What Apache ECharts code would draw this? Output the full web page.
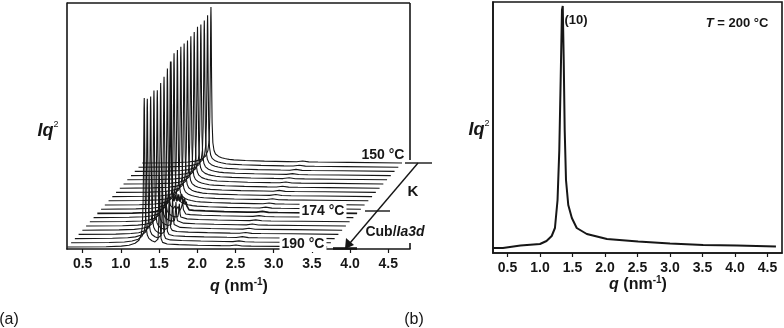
<!DOCTYPE html>
<html>
<head>
<meta charset="utf-8">
<script src="https://cdn.jsdelivr.net/npm/echarts@6/dist/echarts.min.js"></script>
<style>
  html, body { margin: 0; padding: 0; background: #fff; }
  #chart { width: 784px; height: 328px; }
</style>
</head>
<body>
<div id="chart"></div>
<script>
// ---- (a) waterfall of SAXS traces, back (150 °C) to front (190 °C)
const temps = [150, 152, 154, 156, 158, 160, 162, 164, 166, 168, 170,
               172, 174, 176, 178, 180, 182, 184, 186, 188, 190];
// main reflection position (own q, nm^-1) and height (px units) per trace
const peakQ = [1.199, 1.204, 1.210, 1.214, 1.219, 1.225, 1.230, 1.235, 1.240, 1.246, 1.250,
               1.255, 1.261, 1.266, 1.271, 1.276, 1.281, 1.286, 1.292, 1.297, 1.306];
const peakH = [156, 152, 151, 151, 153, 152, 152, 152, 153, 154, 155,
               156, 152, 149, 145, 143, 140, 144, 142, 144, 149];
// Ia3d (220) reflection height, and the jagged multi-peak of the transition
const cubH = [0, 0, 0, 0, 0, 0, 0, 0, 0, 0, 0, 0, 0, 8, 14, 20, 28, 36, 44, 52, 60];
const mixH = [0, 0, 0, 0, 0, 0, 0, 0, 0, 0, 0, 0, 14, 6, 0, 0, 0, 0, 0, 0, 0];
const harmH = 0.8;

// normalized line shape around the main peak (dq from peak)
const shapeDq   = [-1.0, -0.5, -0.3, -0.2, -0.12, -0.07, -0.04, -0.025, -0.015, -0.008, -0.003, 0,
                   0.003, 0.008, 0.015, 0.025, 0.04, 0.06, 0.08, 0.1, 0.12, 0.14, 0.16, 0.18, 0.19,
                   0.2, 0.21, 0.22, 0.24, 0.3, 0.45, 0.7, 1.0, 1.12, 1.2, 1.28, 1.4, 1.8, 2.6];
const shapeMain = [0, 0.002, 0.006, 0.012, 0.025, 0.045, 0.08, 0.14, 0.3, 0.6, 0.93, 1,
                   0.9, 0.55, 0.26, 0.13, 0.08, 0.058, 0.048, 0.042, 0.038, 0.034, 0.031, 0.029, 0.028,
                   0.027, 0.026, 0.025, 0.023, 0.02, 0.016, 0.012, 0.009, 0.008, 0.008, 0.007, 0.006, 0.004, 0];
const shapeHarm = [0, 0, 0, 0, 0, 0, 0, 0, 0, 0, 0, 0,
                   0, 0, 0, 0, 0, 0, 0, 0, 0, 0, 0, 0, 0,
                   0, 0, 0, 0, 0, 0, 0, 0, 0, 1, 0, 0, 0, 0];
const shapeCub  = [0, 0, 0, 0, 0, 0, 0, 0, 0, 0, 0, 0,
                   0, 0, 0, 0, 0, 0, 0, 0, 0, 0, 0, 0.06, 0.35,
                   1, 0.3, 0.08, 0.02, 0, 0, 0, 0, 0, 0, 0, 0, 0, 0];
const shapeMix  = [0, 0, 0, 0, 0, 0, 0, 0, 0, 0, 0, 0,
                   0, 0, 0, 0, 0, 0.7, 0.35, 0.9, 0.45, 1, 0.4, 0.75, 0.35,
                   0.55, 0.25, 0.3, 0, 0, 0, 0, 0, 0, 0, 0, 0, 0, 0];

// ---- (b) single trace at 200 °C
const qB = [0.28, 0.43, 0.44, 0.7, 1.0, 1.1, 1.18, 1.23, 1.27, 1.297, 1.318, 1.338, 1.35,
            1.365, 1.38, 1.40, 1.435, 1.49, 1.565, 1.72, 2.03, 2.51, 3.0, 3.51, 4.03, 4.63];
const iB = [5, 5, 6.5, 7.5, 9, 12, 17, 25, 53, 103, 173, 243, 247,
            193, 123, 73, 48, 35, 25, 19, 14, 11.5, 9.5, 8, 7.5, 6.5];

const tickA = [0.5, 1.0, 1.5, 2.0, 2.5, 3.0, 3.5, 4.0, 4.5];

const FONT = 'Liberation Sans, Arial, sans-serif';
const INK = '#161616';

// waterfall offsets
const STEP_Q = 0.049, STEP_Y = 4.2, BASE_Y = 2, Q0 = 0.3, Q1 = 3.7;

const series = [];
temps.forEach((t, i) => {
  const k = temps.length - 1 - i;
  const base = BASE_Y + k * STEP_Y;
  const shift = k * STEP_Q;
  const pts = [[Q0 + shift, base]];
  shapeDq.forEach((dq, j) => {
    const q = peakQ[i] + dq;
    if (q <= Q0 || q >= Q1) return;
    const v = base + peakH[i] * shapeMain[j] + harmH * shapeHarm[j] +
              cubH[i] * shapeCub[j] + mixH[i] * shapeMix[j];
    pts.push([q + shift, v]);
  });
  pts.push([Q1 + shift, base]);
  series.push({
    name: t + ' °C',
    type: 'line',
    xAxisIndex: 0,
    yAxisIndex: 0,
    data: pts,
    symbol: 'none',
    silent: true,
    lineStyle: { color: INK, width: t === 174 ? 1.7 : 1.1 },
    areaStyle: { color: '#fff', opacity: 1 }
  });
});

series.push({
  name: '200 °C',
  type: 'line',
  xAxisIndex: 1,
  yAxisIndex: 1,
  data: qB.map((q, j) => [q, iB[j]]),
  symbol: 'none',
  silent: true,
  lineStyle: { color: INK, width: 2 }
});

function xAxisOf(grid, min, max) {
  return {
    type: 'value',
    gridIndex: grid,
    min: min,
    max: max,
    z: 10,
    splitLine: { show: false },
    axisLine: { show: true, onZero: false, lineStyle: { color: INK, width: 1.6 } },
    axisTick: { show: true, length: 4, customValues: tickA, lineStyle: { color: INK, width: 1.2 } },
    axisLabel: {
      customValues: tickA,
      formatter: v => v.toFixed(1),
      color: INK, fontFamily: FONT, fontSize: 14, fontWeight: 'bold', margin: 8
    }
  };
}

function yAxisOf(grid, max) {
  return {
    type: 'value',
    gridIndex: grid,
    min: 0,
    max: max,
    z: 10,
    splitLine: { show: false },
    axisLine: { show: true, lineStyle: { color: INK, width: 1.6 } },
    axisTick: { show: false },
    axisLabel: { show: false }
  };
}

const B = 'bold';
const rich = {
  n: { fontFamily: FONT, fontSize: 16, fontWeight: B, color: INK, lineHeight: 20 },
  i: { fontFamily: FONT, fontSize: 16, fontWeight: B, color: INK, fontStyle: 'italic', lineHeight: 20 },
  s: { fontFamily: FONT, fontSize: 10, fontWeight: B, color: INK, verticalAlign: 'top', lineHeight: 12 },
  I: { fontFamily: FONT, fontSize: 18, fontWeight: B, color: INK, fontStyle: 'italic', lineHeight: 22 },
  S: { fontFamily: FONT, fontSize: 9, color: INK, verticalAlign: 'top', lineHeight: 14 },
  t: { fontFamily: FONT, fontSize: 14, fontWeight: B, color: INK, lineHeight: 18 },
  u: { fontFamily: FONT, fontSize: 13, fontWeight: B, color: INK, lineHeight: 18 },
  ti: { fontFamily: FONT, fontSize: 14, fontWeight: B, color: INK, fontStyle: 'italic', lineHeight: 18 },
  ui: { fontFamily: FONT, fontSize: 13, fontWeight: B, color: INK, fontStyle: 'italic', lineHeight: 18 }
};

function txt(x, y, text, opts) {
  return {
    type: 'text', x: x, y: y, z: 100, silent: true,
    style: Object.assign({
      text: text, rich: rich, fill: INK, font: 'bold 14px ' + FONT,
      align: 'center', verticalAlign: 'middle'
    }, opts || {})
  };
}

function seg(x1, y1, x2, y2, w) {
  return { type: 'line', z: 100, silent: true,
           shape: { x1: x1, y1: y1, x2: x2, y2: y2 },
           style: { stroke: INK, lineWidth: w || 1.6 } };
}

const option = {
  animation: false,
  backgroundColor: '#fff',
  grid: [
    { left: 67, top: 3, width: 343, height: 246 },
    { left: 493, top: 2, width: 289, height: 251 }
  ],
  xAxis: [xAxisOf(0, 0.295, 4.784), xAxisOf(1, 0.277, 4.723)],
  yAxis: [yAxisOf(0, 246), yAxisOf(1, 251)],
  series: series,
  graphic: [
    // frame pieces of (a)
    seg(67, 3, 410, 3),
    seg(410, 3, 410, 160),
    seg(410, 243, 410, 249),
    // frame of (b)
    { type: 'rect', z: 100, silent: true, shape: { x: 493, y: 2, width: 289, height: 251 },
      style: { fill: null, stroke: INK, lineWidth: 1.6 } },
    // temperature arrow
    seg(405, 163, 432, 163, 1.4),
    seg(365, 211, 390, 211, 1.4),
    seg(333, 248.5, 357, 248.5, 2.6),
    seg(418, 163, 350, 243, 1.4),
    { type: 'polygon', z: 101, silent: true,
      shape: { points: [[345, 249], [346, 238], [354, 245]] },
      style: { fill: INK } },
    txt(383, 155, '150 °C'),
    txt(323, 211, '174 °C', { backgroundColor: '#fff', padding: [1, 2] }),
    txt(303, 244, '190 °C', { backgroundColor: '#fff', padding: [1, 2] }),
    txt(413, 192, 'K', { font: 'bold 15px ' + FONT }),
    txt(395, 232, '{t|Cub/}{ti|Ia3d}'),
    // axis names
    txt(48, 131, '{I|Iq}{S|2}'),
    txt(479, 130, '{I|Iq}{S|2}'),
    txt(239, 287, '{i|q}{n| (nm}{s|-1}{n|)}'),
    txt(638, 285, '{i|q}{n| (nm}{s|-1}{n|)}'),
    // panel (b) annotations
    txt(576, 20, '(10)', { font: 'bold 13px ' + FONT }),
    txt(737, 23, '{ui|T}{u| = 200 °C}'),
    // panel letters
    txt(9, 320, '(a)', { font: '16px ' + FONT }),
    txt(414, 320, '(b)', { font: '16px ' + FONT })
  ]
};

const chart = echarts.init(document.getElementById('chart'));
chart.setOption(option);
</script>
</body>
</html>
